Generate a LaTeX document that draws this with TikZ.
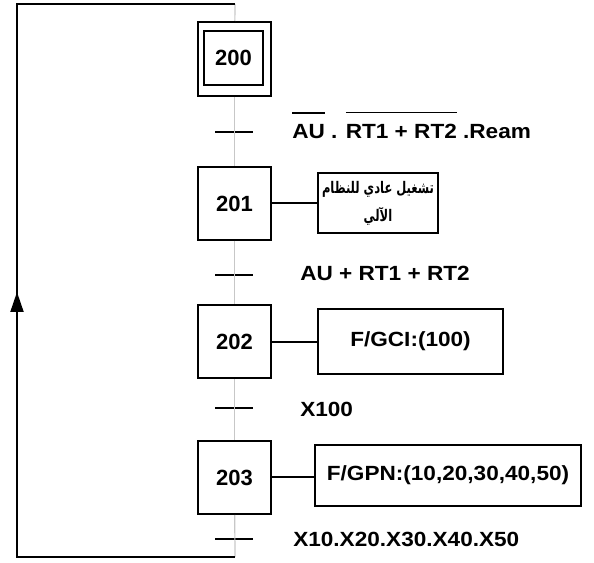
\documentclass[tikz,border=0pt]{standalone}
\usepackage{fontspec}
\setmainfont{Liberation Sans}[FakeStretch=1.1]
\newfontfamily\numfont{Liberation Sans}
\newfontfamily\arabicfont[Script=Arabic, FakeStretch=0.72]{DejaVu Sans}
\TeXXeTstate=1
\usetikzlibrary{arrows.meta}
\newcommand{\ovl}[1]{\vbox{\hrule height 1.2pt\kern 8.5pt\hbox{#1}}}

\begin{document}
\begin{tikzpicture}[x=0.75pt, y=-0.75pt,
    every node/.style={font=\fontsize{15.4}{18}\selectfont\bfseries},
    stepbox/.style={draw, line width=1.5pt, fill=white, inner sep=0pt, minimum width=54.75pt, minimum height=54.75pt,
      font=\fontsize{16.5}{19}\selectfont\bfseries\numfont},
    action/.style={draw, line width=1.5pt, fill=white, inner sep=2pt},
    trans/.style={fill=black, inner sep=0pt, minimum width=28.5pt, minimum height=1.5pt},
    tlabel/.style={anchor=base west, inner sep=0pt},
    spine/.style={draw=black!22, line width=0.9pt},
    loopline/.style={line width=1.5pt}]
    \useasboundingbox (0,0) rectangle (594,563);
    % Steps
    \node[stepbox, minimum height=55.5pt] (s200) at (234.5,59) {};
    \node[stepbox, minimum width=44.25pt, minimum height=40.5pt] (s200i) at (233.5,58) {200};
    \node[stepbox] (s201) at (234.5,203.5) {201};
    \node[stepbox] (s202) at (234.5,342) {202};
    \node[stepbox] (s203) at (234.5,477.5) {203};
    % Actions
    \node[action, minimum width=90pt, minimum height=45pt, align=center, inner sep=0pt,
      font=\fontsize{12}{21}\selectfont\bfseries\arabicfont] (a201) at (378,203)
      {\beginR تشغيل عادي للنظام\endR\\\beginR الآلي\endR};
    \node[action, minimum width=138.75pt, minimum height=48.75pt] (a202) at (410.5,341.5) {F/GCI:(100)};
    \node[action, minimum width=199.5pt, minimum height=45.75pt] (a203) at (448,475.5) {F/GPN:(10,20,30,40,50)};
    % Transitions
    \node[trans] (t1) at (234,132) {};
    \node[trans] (t2) at (234,275) {};
    \node[trans] (t3) at (234,408) {};
    \node[trans] (t4) at (234,539) {};
    \node[tlabel] (l1) at (292,139) {\ovl{AU} . \ovl{RT1 + RT2} .Ream};
    \node[tlabel] (l2) at (300,281) {AU + RT1 + RT2};
    \node[tlabel] (l3) at (300,417) {X100};
    \node[tlabel] (l4) at (293,547) {X10.X20.X30.X40.X50};
    % Loop corners
    \coordinate (top) at (235,4);
    \coordinate (bot) at (235,557);
    \coordinate (tl) at (17,4);
    \coordinate (bl) at (17,557);
    \coordinate (arr) at (17,292);
    % Spine
    \draw[spine] (top) -- (s200);
    \draw[spine] (s200) -- (s201);
    \draw[spine] (s201) -- (s202);
    \draw[spine] (s202) -- (s203);
    \draw[spine] (s203) -- (bot);
    % Action links
    \draw[loopline] (s201.east) -- (s201.east -| a201.west);
    \draw[loopline] (s202.east) -- (s202.east -| a202.west);
    \draw[loopline] (s203.east) -- (s203.east -| a203.west);
    % Return loop
    \draw[loopline] (bot) -- (bl) -- (tl) -- (top);
    \draw[loopline, -{Triangle[length=15pt, width=9.75pt]}] (bl) -- (arr);
\end{tikzpicture}
\end{document}
